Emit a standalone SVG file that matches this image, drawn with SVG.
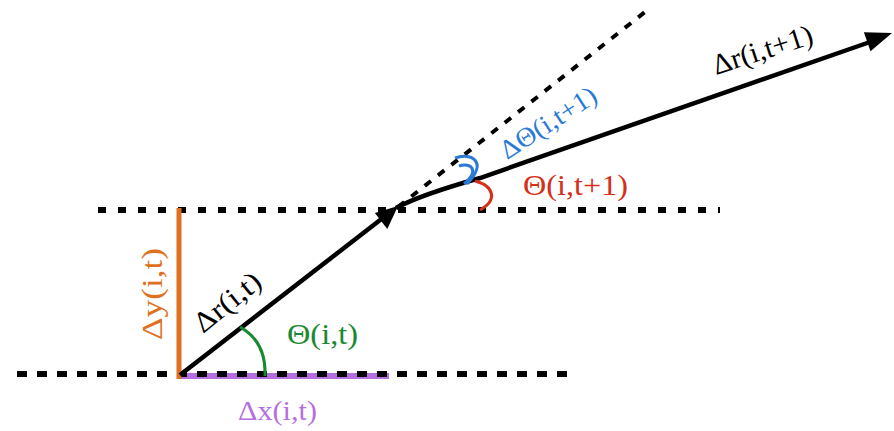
<svg xmlns="http://www.w3.org/2000/svg" width="894" height="431" viewBox="0 0 894 431">
<style>
.lbl{font-family:"Liberation Serif","Times New Roman",serif;}
.dash{stroke:#000;fill:none;}
</style>
<rect width="894" height="431" fill="#fff"/>
<g id="baselines">
<line x1="180" y1="376" x2="389" y2="376" stroke="#b56fe0" stroke-width="6"/>
<line class="dash" x1="17" y1="374" x2="568" y2="374" stroke-width="6" stroke-dasharray="10 10"/>
<line class="dash" x1="98" y1="210" x2="720" y2="210" stroke-width="6" stroke-dasharray="8 12"/>
<line x1="179" y1="208" x2="179" y2="379" stroke="#e07020" stroke-width="5"/>
</g>
<g id="connectors">
<line class="dash" x1="398" y1="207" x2="645" y2="12" stroke-width="4" stroke-dasharray="8 9"/>
<path d="M180,375 L384,217" stroke="#000" stroke-width="4.5" fill="none"/>
<polygon points="398,206 387.3,228.9 374.9,213.1" fill="#000"/>
<path d="M396,208 Q420,195 480,178 L870,42" stroke="#000" stroke-width="4.5" fill="none"/>
<polygon points="892,33 870.5,51.3 863.9,32.3" fill="#000"/>
</g>
<g id="angles">
<path d="M265,376 C266,352 256,336 240,327" stroke="#1a8a30" stroke-width="3" fill="none"/>
<path d="M480,210 C498,200 494,186 475,181" stroke="#d4301a" stroke-width="3" fill="none"/>
<path d="M455,158 C472,152 488,162 467,184" stroke="#2a7ad6" stroke-width="3" fill="none"/>
<path d="M459,166 C471,162 480,170 464,184" stroke="#2a7ad6" stroke-width="3" fill="none"/>
</g>
<g id="labels">
<text class="lbl" transform="translate(716,75) rotate(-18)" font-size="29" textLength="104" lengthAdjust="spacingAndGlyphs" fill="#000">Δr(i,t+1)</text>
<text class="lbl" transform="translate(507,160) rotate(-33)" font-size="27" textLength="110" lengthAdjust="spacingAndGlyphs" fill="#2a7ad6">ΔΘ(i,t+1)</text>
<text class="lbl" x="523" y="195" font-size="30" textLength="105" lengthAdjust="spacingAndGlyphs" fill="#d4301a">Θ(i,t+1)</text>
<text class="lbl" x="287" y="344" font-size="30" textLength="71" lengthAdjust="spacingAndGlyphs" fill="#1a8a30">Θ(i,t)</text>
<text class="lbl" x="238" y="420" font-size="28" textLength="79" lengthAdjust="spacingAndGlyphs" fill="#b56fe0">Δx(i,t)</text>
<text class="lbl" transform="translate(203,334) rotate(-39)" font-size="29" textLength="78" lengthAdjust="spacingAndGlyphs" fill="#000">Δr(i,t)</text>
<text class="lbl" transform="translate(162,340) rotate(-90)" font-size="30" textLength="92" lengthAdjust="spacingAndGlyphs" fill="#e07020">Δy(i,t)</text>
</g>
</svg>
